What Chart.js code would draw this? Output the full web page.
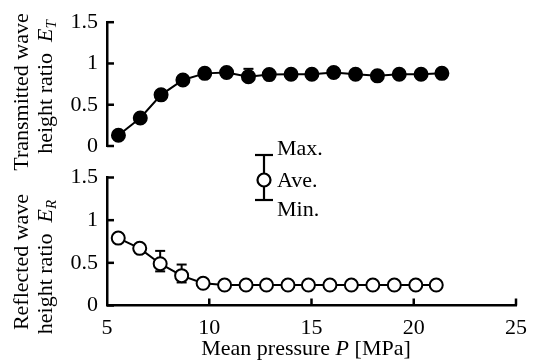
<!DOCTYPE html>
<html>
<head>
<meta charset="utf-8">
<script src="https://cdn.jsdelivr.net/npm/chart.js@4/dist/chart.umd.min.js"></script>
<style>
  body { margin: 0; background: #fff; }
  #wrap { position: relative; width: 537px; height: 360px; }
  canvas { position: absolute; left: 0; }
  #upper { top: 0; }
  #lower { top: 140px; }
  #probe { position: absolute; left: -999px; font-family: "Liberation Serif"; font-size: 22px; }
</style>
</head>
<body>
<span id="probe">Mean <i>P</i></span>
<div id="wrap">
  <canvas id="upper" width="537" height="185"></canvas>
  <canvas id="lower" width="537" height="220"></canvas>
</div>
<script>
// 平均圧力 [MPa]
const pressure = [5.55, 6.6, 7.6, 8.65, 9.7, 10.75, 11.8, 12.8, 13.85, 14.85, 15.9, 16.95, 18.0, 19.05, 20.1, 21.1];

// 透過波高比 E_T
const transmitted = [0.13, 0.34, 0.62, 0.80, 0.88, 0.89, 0.84, 0.865, 0.87, 0.87, 0.89, 0.87, 0.85, 0.87, 0.87, 0.88];
const transMax = [null, null, null, null, null, null, 0.935, null, null, null, null, null, null, null, null, null];
const transMin = [null, null, null, null, null, null, 0.79, null, null, null, null, null, null, null, null, null];

// 反射波高比 E_R
const reflected = [0.79, 0.67, 0.49, 0.35, 0.26, 0.24, 0.24, 0.24, 0.24, 0.24, 0.24, 0.24, 0.24, 0.24, 0.24, 0.24];
const reflMax = [null, null, 0.64, 0.48, null, null, null, null, null, null, null, null, null, null, null, null];
const reflMin = [null, null, 0.40, 0.27, null, null, null, null, null, null, null, null, null, null, null, null];

// 目盛り
const xTicks = [5, 10, 15, 20, 25];
const yTicks = [0, 0.5, 1, 1.5];
const legendLabels = ['Max.', 'Ave.', 'Min.'];

const FONT = '"Liberation Serif", "Times New Roman", Times, serif';
const f = (size, style) => (style ? style + ' ' : '') + size + 'px ' + FONT;

// 縦書きタイトル（斜体・添字付き）
function drawRotated(ctx, segs, cx, cy) {
  ctx.save();
  ctx.translate(cx, cy);
  ctx.rotate(-Math.PI / 2);
  ctx.textBaseline = 'middle';
  ctx.textAlign = 'left';
  let total = 0;
  segs.forEach(s => { ctx.font = s.font; total += ctx.measureText(s.text).width; });
  let x = -total / 2;
  segs.forEach(s => {
    ctx.font = s.font;
    ctx.fillText(s.text, x, s.dy || 0);
    x += ctx.measureText(s.text).width;
  });
  ctx.restore();
}

function drawLine(ctx, x1, y1, x2, y2) {
  ctx.beginPath();
  ctx.moveTo(x1, y1);
  ctx.lineTo(x2, y2);
  ctx.stroke();
}

const paperPlugin = {
  id: 'paper',
  beforeDatasetsDraw(chart, args, opts) {
    const ctx = chart.ctx;
    const xs = chart.scales.x, ys = chart.scales.y;
    ctx.save();
    ctx.strokeStyle = '#000';
    ctx.lineWidth = 2;
    opts.errMax.forEach((hi, i) => {
      if (hi == null) return;
      const lo = opts.errMin[i];
      const px = xs.getPixelForValue(pressure[i]);
      const y1 = ys.getPixelForValue(hi);
      const y2 = ys.getPixelForValue(lo);
      drawLine(ctx, px, y1, px, y2);
      drawLine(ctx, px - 5, y1, px + 5, y1);
      drawLine(ctx, px - 5, y2, px + 5, y2);
    });
    ctx.restore();
  },
  afterDraw(chart, args, opts) {
    const ctx = chart.ctx;
    const area = chart.chartArea;
    const xs = chart.scales.x, ys = chart.scales.y;
    ctx.save();
    ctx.strokeStyle = '#000';
    ctx.fillStyle = '#000';
    ctx.lineWidth = 2.5;
    // 内向きの目盛り線
    yTicks.forEach(v => {
      const py = ys.getPixelForValue(v);
      drawLine(ctx, area.left, py, area.left + 7, py);
    });
    if (opts.xAxis) {
      xTicks.slice(1).forEach(v => {
        const px = xs.getPixelForValue(v);
        drawLine(ctx, px, area.bottom, px, area.bottom - 7);
      });
      ctx.textBaseline = 'middle';
      const parts = [
        { text: 'Mean pressure ', font: f(22) },
        { text: 'P', font: f(22, 'italic') },
        { text: ' [MPa]', font: f(22) }
      ];
      let w = 0;
      parts.forEach(p => { ctx.font = p.font; w += ctx.measureText(p.text).width; });
      let x = opts.xTitle.x - w / 2;
      parts.forEach(p => {
        ctx.font = p.font;
        ctx.fillText(p.text, x, opts.xTitle.y);
        x += ctx.measureText(p.text).width;
      });
    }
    // y軸タイトル
    const t = opts.yTitle;
    drawRotated(ctx, [{ text: t.line1, font: f(22) }], 22, t.y1);
    drawRotated(ctx, [
      { text: 'height ratio  ', font: f(22) },
      { text: 'E', font: f(22, 'italic') },
      { text: t.sub, font: f(15, 'italic'), dy: 6 }
    ], 46, t.y2);

    // 凡例（最大・平均・最小）
    if (opts.legend) {
      const L = opts.legend;
      ctx.lineWidth = 2.2;
      drawLine(ctx, L.x, L.top, L.x, L.bottom);
      drawLine(ctx, L.x - 9, L.top, L.x + 9, L.top);
      drawLine(ctx, L.x - 9, L.bottom, L.x + 9, L.bottom);
      ctx.beginPath();
      ctx.arc(L.x, L.mid, 6.5, 0, Math.PI * 2);
      ctx.fillStyle = '#fff';
      ctx.fill();
      ctx.stroke();
      ctx.fillStyle = '#000';
      ctx.font = f(22);
      ctx.textAlign = 'left';
      ctx.textBaseline = 'middle';
      legendLabels.forEach((s, i) => {
        ctx.fillText(s, L.x + 13, L.textY[i]);
      });
    }
    ctx.restore();
  }
};

function makeChart(id, values, filled, padTop, padBottom, showX, pluginOpts) {
  const ctx = document.getElementById(id).getContext('2d');
  return new Chart(ctx, {
    type: 'line',
    data: {
      datasets: [{
        data: pressure.map((p, i) => ({ x: p, y: values[i] })),
        borderColor: '#000',
        borderWidth: 2,
        pointRadius: 6.5,
        pointBorderWidth: 2,
        pointBackgroundColor: filled ? '#000' : '#fff',
        pointBorderColor: '#000',
        tension: 0,
        fill: false
      }]
    },
    options: {
      responsive: false,
      animation: false,
      devicePixelRatio: 1,
      layout: { padding: { left: 0, right: 14, top: padTop, bottom: padBottom } },
      plugins: {
        legend: { display: false },
        tooltip: { enabled: false },
        paper: pluginOpts
      },
      scales: {
        x: {
          type: 'linear',
          display: showX,
          min: 5,
          max: 25,
          grid: { display: false, drawTicks: false },
          border: { display: true, color: '#000', width: 2.5 },
          ticks: {
            stepSize: 5,
            autoSkip: false,
            maxRotation: 0,
            padding: 10,
            color: '#000',
            font: { family: FONT, size: 22 }
          },
          afterFit: s => { if (showX) s.height = 54.5; }
        },
        y: {
          min: 0,
          max: 1.5,
          grid: { display: false, drawTicks: false },
          border: { display: true, color: '#000', width: 2.5 },
          ticks: {
            stepSize: 0.5,
            autoSkip: false,
            padding: 9,
            color: '#000',
            font: { family: FONT, size: 22 },
            callback: v => String(v)
          },
          afterFit: s => { s.width = 107; }
        }
      }
    },
    plugins: [paperPlugin]
  });
}

function init() {
  makeChart('upper', transmitted, true, 19.3, 39, false, {
    errMax: transMax, errMin: transMin, xAxis: false,
    yTitle: { line1: 'Transmitted wave', sub: 'T', y1: 92, y2: 87 }
  });
  makeChart('lower', reflected, false, 37.5, 0, true, {
    errMax: reflMax, errMin: reflMin, xAxis: true,
    xTitle: { x: 306, y: 209 },
    yTitle: { line1: 'Reflected wave', sub: 'R', y1: 122, y2: 127 },
    legend: { x: 264, top: 15, bottom: 60, mid: 40, textY: [9, 41, 70] }
  });
}

window.addEventListener('DOMContentLoaded', () => {
  Promise.all([
    document.fonts.load('22px "Liberation Serif"'),
    document.fonts.load('italic 22px "Liberation Serif"')
  ]).catch(() => {}).then(init);
});
</script>
</body>
</html>
